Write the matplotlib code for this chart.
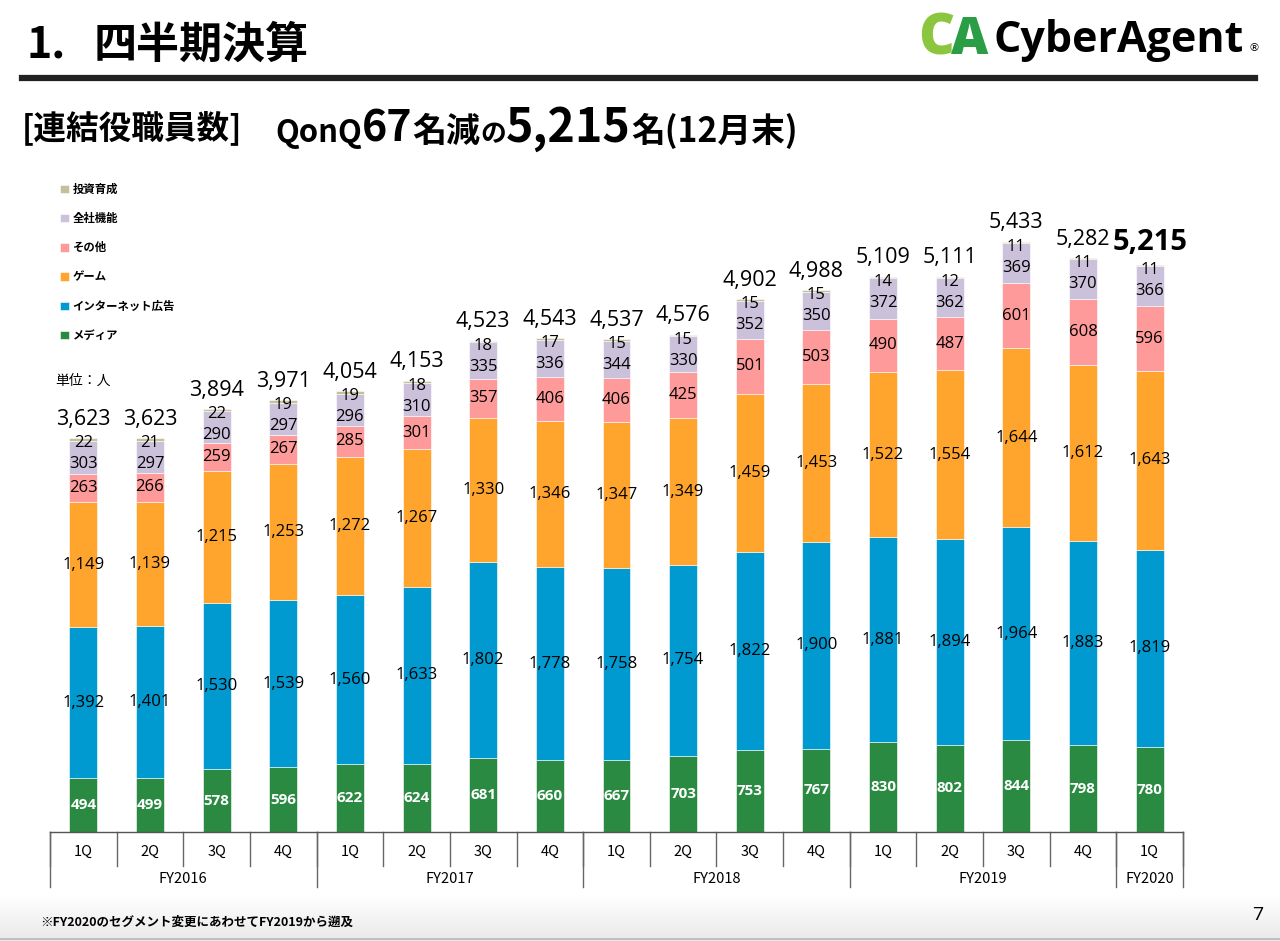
import matplotlib
matplotlib.use('Agg')
import matplotlib.pyplot as plt
import numpy as np
from matplotlib.offsetbox import TextArea, HPacker, AnnotationBbox
from matplotlib.transforms import blended_transform_factory
from matplotlib.lines import Line2D
from matplotlib.colors import LinearSegmentedColormap

JP = ['Noto Sans CJK JP', 'DejaVu Sans']
NUM = ['Open Sans', 'Noto Sans CJK JP', 'DejaVu Sans']
plt.rcParams['font.family'] = NUM

# ---------------- data ----------------
quarters = ['1Q', '2Q', '3Q', '4Q'] * 4 + ['1Q']
fiscal_years = ['FY2016', 'FY2017', 'FY2018', 'FY2019', 'FY2020']
fy_quarter_counts = [4, 4, 4, 4, 1]
segments = ['メディア', 'インターネット広告', 'ゲーム', 'その他', '全社機能', '投資育成']
media = [494, 499, 578, 596, 622, 624, 681, 660, 667, 703, 753, 767, 830, 802, 844, 798, 780]
internet_ad = [1392, 1401, 1530, 1539, 1560, 1633, 1802, 1778, 1758, 1754, 1822, 1900, 1881, 1894, 1964, 1883, 1819]
game = [1149, 1139, 1215, 1253, 1272, 1267, 1330, 1346, 1347, 1349, 1459, 1453, 1522, 1554, 1644, 1612, 1643]
other = [263, 266, 259, 267, 285, 301, 357, 406, 406, 425, 501, 503, 490, 487, 601, 608, 596]
corporate = [303, 297, 290, 297, 296, 310, 335, 336, 344, 330, 352, 350, 372, 362, 369, 370, 366]
investment = [22, 21, 22, 19, 19, 18, 18, 17, 15, 15, 15, 15, 14, 12, 11, 11, 11]
totals = [3623, 3623, 3894, 3971, 4054, 4153, 4523, 4543, 4537, 4576, 4902, 4988, 5109, 5111, 5433, 5282, 5215]
series = [media, internet_ad, game, other, corporate, investment]
colors = ['#2a8a41', '#0099d0', '#ffa52e', '#ff9a9a', '#cbc1da', '#c4c09c']

W, H = 1280, 941
def fx(px):
    return px / W
def fy(py):
    return 1 - py / H

fig = plt.figure(figsize=(W / 100, H / 100), dpi=100)

# bottom gradient band
bg = fig.add_axes([0, 0, 1, 46 / H], zorder=-5)
grad = np.linspace(0, 1, 100).reshape(-1, 1)
cmap = LinearSegmentedColormap.from_list('g', ['#e9e9e9', '#ffffff'])
bg.imshow(grad, aspect='auto', cmap=cmap, origin='lower', extent=[0, 1, 0, 1])
bg.axis('off')
fig.add_artist(Line2D([0, 1], [fy(939)] * 2, color='#b8b8b8', lw=1.2))

YMAX = 6000
AX_H = 652
ax = fig.add_axes([fx(50), fy(832), 1133 / W, AX_H / H])
units_per_px = YMAX / AX_H
x = np.arange(len(quarters))
bottom = np.zeros(len(x))
containers = []
bottoms = []
for name, vals, col in zip(segments, series, colors):
    c = ax.bar(x, vals, width=0.42, bottom=bottom, color=col, label=name,
               edgecolor='white', linewidth=0.4)
    bottoms.append(bottom.copy())
    bottom += np.array(vals)
    containers.append(c)

# centered labels for media .. other
for i in range(4):
    labels = [f'{v:,}' for v in series[i]]
    if i == 0:
        ax.bar_label(containers[i], labels=labels, label_type='center', color='white',
                     fontsize=11, fontweight='bold')
    else:
        ax.bar_label(containers[i], labels=labels, label_type='center', color='black',
                     fontsize=12)

# investment label just inside top; corporate label pushed down if needed
top = bottom
for xi in x:
    inv_y = top[xi] - 5 * units_per_px
    corp_center = bottoms[4][xi] + corporate[xi] / 2
    corp_y = min(corp_center, inv_y - 21 * units_per_px)
    ax.text(xi, inv_y, f'{investment[xi]:,}', ha='center', va='center', fontsize=12)
    ax.text(xi, corp_y, f'{corporate[xi]:,}', ha='center', va='center', fontsize=12)

tot = ax.bar_label(containers[-1], labels=[f'{v:,}' for v in totals],
                   padding=6, fontsize=15.5)
tot[-1].set_fontsize(21)
tot[-1].set_fontweight('bold')

ax.set_xlim(-0.5, len(x) - 0.5)
ax.set_ylim(0, YMAX)
ax.set_xticks([])
ax.set_yticks([])
for s in ['top', 'left', 'right']:
    ax.spines[s].set_visible(False)
ax.spines['bottom'].set_color('#555555')
ax.spines['bottom'].set_linewidth(1)

tr = blended_transform_factory(ax.transData, fig.transFigure)
for b in np.arange(len(x) + 1) - 0.5:
    ax.add_line(Line2D([b, b], [fy(832), fy(866)], transform=tr, color='#666666',
                       lw=1, clip_on=False))
for xi, q in zip(x, quarters):
    ax.text(xi, fy(852), q, transform=tr, ha='center', va='center', fontsize=10.5,
            family=JP)
edges = np.concatenate([[0], np.cumsum(fy_quarter_counts)]) - 0.5
for b in edges:
    ax.add_line(Line2D([b, b], [fy(832), fy(887)], transform=tr, color='#666666',
                       lw=1, clip_on=False))
for i, fyname in enumerate(fiscal_years):
    ax.text((edges[i] + edges[i + 1]) / 2, fy(879), fyname, transform=tr,
            ha='center', va='center', fontsize=10.5, family=JP)

# legend
h, l = ax.get_legend_handles_labels()
ax.legend(h[::-1], l[::-1], loc='upper left', bbox_to_anchor=(fx(60), fy(183)),
          bbox_transform=fig.transFigure, frameon=False,
          prop={'family': JP, 'weight': 'bold', 'size': 8.2},
          labelspacing=1.42, handlelength=0.75, handleheight=0.75,
          handletextpad=0.35, borderpad=0, borderaxespad=0)

fig.text(fx(55), fy(381), '単位：人', fontsize=10, family=JP, va='center', ha='left')

# title
fig.text(fx(27), fy(45), '1.', fontsize=31, fontweight='bold', family=JP,
         va='center', ha='left')
fig.text(fx(94), fy(45), '四半期決算', fontsize=31, fontweight='bold', family=JP,
         va='center', ha='left')
fig.add_artist(Line2D([fx(22), fx(1255)], [fy(78)] * 2, lw=4.5, color='#222222'))

# subtitle
def ta(s, size):
    return TextArea(s, textprops=dict(fontsize=size, fontweight='bold', family=JP))

p1 = HPacker(children=[ta('[連結役職員数]', 23.5)], align='baseline', pad=0, sep=0)
p2 = HPacker(children=[ta('QonQ', 22.3), ta('67', 31), ta('名減', 24.5), ta('の', 18.5),
                       ta('5,215', 33.5), ta('名(12月末)', 24.3)],
             align='baseline', pad=0, sep=0)
for p, xp in [(p1, 22), (p2, 275)]:
    ab = AnnotationBbox(p, (fx(xp), fy(128)), xycoords='figure fraction',
                        box_alignment=(0, 0.5), frameon=False, pad=0,
                        annotation_clip=False)
    ax.add_artist(ab)

# logo
fig.text(fx(918), fy(40), 'C', fontsize=40, fontweight='heavy', color='#8cc63f',
         family=['Open Sans'], va='center', ha='left')
fig.text(fx(951), fy(40), 'A', fontsize=37, fontweight='heavy', color='#2a9d45',
         family=['Open Sans'], va='center', ha='left')
fig.text(fx(993), fy(40), 'CyberAgent', fontsize=31, fontweight='bold',
         family=['Open Sans'], va='center', ha='left')
fig.text(fx(1248), fy(48), '®', fontsize=8, family=['DejaVu Sans'], va='center', ha='left')

# footer
fig.text(fx(40), fy(922), '※FY2020のセグメント変更にあわせてFY2019から遡及', fontsize=9,
         fontweight='bold', family=JP, va='center', ha='left')
fig.text(fx(1258), fy(915), '7', fontsize=14, va='center', ha='center')

fig.savefig('out.png', dpi=100)
